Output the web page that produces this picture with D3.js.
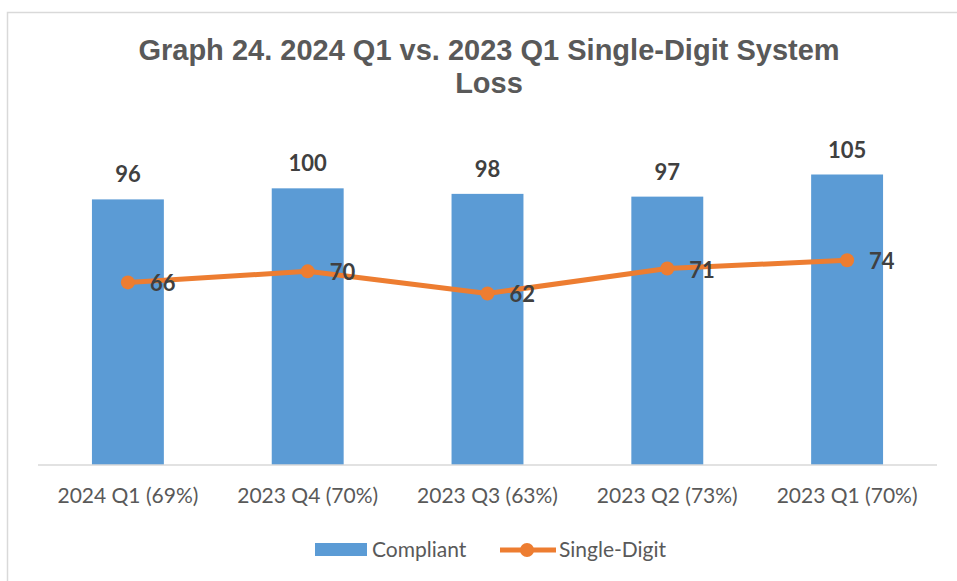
<!DOCTYPE html>
<html lang="en">
  <head>
    <meta charset="UTF-8" />
    <title>Graph 24. 2024 Q1 vs. 2023 Q1 Single-Digit System Loss</title>
    <script src="https://d3js.org/d3.v7.min.js"></script>
    <style>
      body {
        margin: 0;
        background-color: #ffffff;
      }

      .title {
        font-family: "Liberation Sans", Arial, sans-serif;
        font-weight: bold;
        font-size: 29px;
        fill: #595959;
        text-anchor: middle;
      }

      .data-label {
        font-family: Lato, "Open Sans", sans-serif;
        font-weight: bold;
        font-size: 22px;
        fill: #404040;
      }

      .axis-label,
      .legend-item {
        font-family: Lato, "Open Sans", sans-serif;
        font-size: 21px;
        fill: #595959;
      }
    </style>
  </head>

  <body>
    <div id="chart"></div>

    <script>
      // Chart data
      const categories = [
        "2024 Q1 (69%)",
        "2023 Q4 (70%)",
        "2023 Q3 (63%)",
        "2023 Q2 (73%)",
        "2023 Q1 (70%)",
      ];
      const compliant = [96, 100, 98, 97, 105];
      const singleDigit = [66, 70, 62, 71, 74];
      const yTicks = [0, 20, 40, 60, 80, 100, 120];

      const W = 957,
        H = 581;
      const plot = { left: 38, right: 937, top: 133, bottom: 465 };

      const svg = d3
        .select("#chart")
        .append("svg")
        .attr("width", W)
        .attr("height", H);

      // Chart frame (runs off the right and bottom edges)
      svg
        .append("rect")
        .attr("x", 7.5)
        .attr("y", 12.5)
        .attr("width", 1000)
        .attr("height", 700)
        .attr("fill", "#ffffff")
        .attr("stroke", "#d9d9d9")
        .attr("stroke-width", 1.5);

      // Title
      const title = svg.append("text").attr("class", "title");
      title.append("tspan").attr("x", 489).attr("y", 60)
        .text("Graph 24. 2024 Q1 vs. 2023 Q1 Single-Digit System");
      title.append("tspan").attr("x", 489).attr("y", 93).text("Loss");

      // Scales
      const x = d3
        .scaleBand()
        .domain(categories)
        .range([plot.left, plot.right])
        .paddingInner(0.6)
        .paddingOuter(0.3);

      const y = d3
        .scaleLinear()
        .domain([0, d3.max(yTicks)])
        .range([plot.bottom, plot.top]);

      const cx = (c) => x(c) + x.bandwidth() / 2;

      // Bars
      svg
        .selectAll(".bar")
        .data(categories)
        .enter()
        .append("rect")
        .attr("class", "bar")
        .attr("x", (d) => x(d))
        .attr("width", x.bandwidth())
        .attr("y", (d, i) => y(compliant[i]))
        .attr("height", (d, i) => y(0) - y(compliant[i]))
        .attr("fill", "#5b9bd5");

      // Category axis
      const xAxis = svg
        .append("g")
        .attr("transform", `translate(0, ${plot.bottom})`)
        .call(d3.axisBottom(x).tickSize(0).tickPadding(0));
      xAxis.select(".domain").attr("stroke", "#d9d9d9").attr("stroke-width", 1.5)
        .attr("d", `M${plot.left},0H${plot.right}`);
      xAxis
        .selectAll(".tick text")
        .attr("class", "axis-label")
        .attr("font-family", null)
        .attr("font-size", null)
        .attr("fill", null)
        .attr("dy", null)
        .attr("y", 38);

      // Bar labels
      svg
        .selectAll(".bar-label")
        .data(categories)
        .enter()
        .append("text")
        .attr("class", "data-label")
        .attr("text-anchor", "middle")
        .attr("x", (d) => cx(d))
        .attr("y", (d, i) => y(compliant[i]) - 17)
        .text((d, i) => compliant[i]);

      // Line series
      const line = d3
        .line()
        .x((d) => cx(d))
        .y((d, i) => y(singleDigit[i]));

      svg
        .append("path")
        .datum(categories)
        .attr("d", line)
        .attr("fill", "none")
        .attr("stroke", "#ed7d31")
        .attr("stroke-width", 5)
        .attr("stroke-linejoin", "round");

      svg
        .selectAll(".dot")
        .data(categories)
        .enter()
        .append("circle")
        .attr("cx", (d) => cx(d))
        .attr("cy", (d, i) => y(singleDigit[i]))
        .attr("r", 7)
        .attr("fill", "#ed7d31");

      svg
        .selectAll(".line-label")
        .data(categories)
        .enter()
        .append("text")
        .attr("class", "data-label")
        .attr("x", (d) => cx(d) + 22)
        .attr("y", (d, i) => y(singleDigit[i]) + 9)
        .text((d, i) => singleDigit[i]);

      // Legend
      const legend = svg.append("g");
      legend
        .append("rect")
        .attr("x", 315)
        .attr("y", 543)
        .attr("width", 52)
        .attr("height", 13)
        .attr("fill", "#5b9bd5");
      legend
        .append("text")
        .attr("class", "legend-item")
        .attr("x", 372)
        .attr("y", 557)
        .text("Compliant");
      legend
        .append("line")
        .attr("x1", 500)
        .attr("x2", 556)
        .attr("y1", 550)
        .attr("y2", 550)
        .attr("stroke", "#ed7d31")
        .attr("stroke-width", 5);
      legend
        .append("circle")
        .attr("cx", 527)
        .attr("cy", 550)
        .attr("r", 7)
        .attr("fill", "#ed7d31");
      legend
        .append("text")
        .attr("class", "legend-item")
        .attr("x", 559)
        .attr("y", 557)
        .text("Single-Digit");
    </script>
  </body>
</html>
